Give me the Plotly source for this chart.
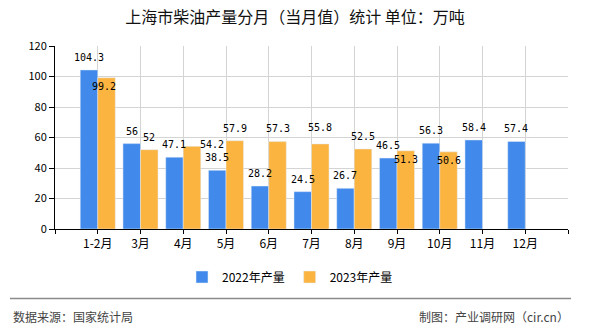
import plotly.graph_objects as go

# ---- data ----
months = ['1-2月', '3月', '4月', '5月', '6月', '7月', '8月', '9月', '10月', '11月', '12月']
prod_2022 = [104.3, 56, 47.1, 38.5, 28.2, 24.5, 26.7, 46.5, 56.3, 58.4, 57.4]
prod_2023 = [99.2, 52, 54.2, 57.9, 57.3, 55.8, 52.5, 51.3, 50.6, None, None]
series_names = ['2022年产量', '2023年产量']
y_ticks = [0, 20, 40, 60, 80, 100, 120]

# ---- label styling (pixel offsets of each value label from its bar top) ----
LABEL_DY = 12.5
label_dy_2023 = [-9, 12.5, 1.5, 12.5, 13.5, 16, 12.5, -9, -9, 12.5, 12.5]
label_dx_2023 = [-3, 0, 19.5, 0, 0, 0, 0, 0, 0, 0, 0]

W, H = 590, 330
ML, MR, MT, MB = 55, 22, 46, 101
PW, PH = W - ML - MR, H - MT - MB
BARGAP = 0.18


def px_x(px):
    return (px - ML) / PW


def px_y(py):
    return (H - MB - py) / PH


CJK = 'Noto Sans CJK SC'
MONO = 'DejaVu Sans Mono'
BLUE = '#418AEC'
ORANGE = '#FCB441'

xs = list(range(len(months)))
half = (1 - BARGAP) / 4  # offset of each bar centre from its category centre

fig = go.Figure()
fig.add_trace(go.Bar(x=xs, y=prod_2022, name=series_names[0], marker_color=BLUE))
fig.add_trace(go.Bar(x=xs, y=prod_2023, name=series_names[1], marker_color=ORANGE))

annotations = []
for i, v in enumerate(prod_2022):
    if v is None:
        continue
    annotations.append(dict(x=i - half, y=v, xref='x', yref='y', text=f'{v:g}',
                            showarrow=False, yanchor='middle', xanchor='center',
                            yshift=LABEL_DY,
                            font=dict(family=MONO, size=10, color='#000')))
for i, v in enumerate(prod_2023):
    if v is None:
        continue
    annotations.append(dict(x=i + half, y=v, xref='x', yref='y', text=f'{v:g}',
                            showarrow=False, yanchor='middle', xanchor='center',
                            yshift=label_dy_2023[i], xshift=label_dx_2023[i],
                            font=dict(family=MONO, size=10, color='#000')))

annotations += [
    dict(text='数据来源：国家统计局', xref='paper', yref='paper',
         x=px_x(11), y=px_y(316), xanchor='left', yanchor='middle',
         showarrow=False, font=dict(family=CJK, size=12, color='#444')),
    dict(text='制图：产业调研网（cir.cn）', xref='paper', yref='paper',
         x=px_x(571), y=px_y(316), xanchor='right', yanchor='middle',
         showarrow=False, font=dict(family=CJK, size=12, color='#444')),
]

fig.update_layout(
    width=W, height=H,
    margin=dict(l=ML, r=MR, t=MT, b=MB, pad=0),
    paper_bgcolor='white', plot_bgcolor='white',
    barmode='group', bargap=BARGAP, bargroupgap=0,
    font=dict(family=CJK, size=12, color='#000'),
    title=dict(text='上海市柴油产量分月（当月值）统计 单位：万吨',
               x=0.5, xref='container', xanchor='center',
               y=1 - 17 / H, yref='container', yanchor='middle',
               font=dict(family=CJK, size=16, color='#111')),
    showlegend=True,
    legend=dict(orientation='h', x=px_x(290), xanchor='center',
                y=px_y(277), yanchor='middle',
                font=dict(family=CJK, size=12, color='#000'),
                bgcolor='rgba(0,0,0,0)', itemclick=False),
    xaxis=dict(
        range=[-1, len(months)],
        tickmode='array',
        tickvals=[-1] + xs + [len(months)],
        ticktext=[''] + months + [''],
        showgrid=True, gridcolor='#d4d4d4', gridwidth=1,
        showline=True, linecolor='#000', linewidth=1,
        ticks='outside', ticklen=4, tickcolor='#000',
        tickfont=dict(family=CJK, size=12, color='#000'),
        zeroline=False, fixedrange=True,
    ),
    yaxis=dict(
        range=[0, 120], tickmode='array', tickvals=y_ticks,
        showgrid=True, gridcolor='#d4d4d4', gridwidth=1,
        showline=True, linecolor='#000', linewidth=1,
        ticks='outside', ticklen=5, tickcolor='#000',
        tickfont=dict(family=CJK, size=11, color='#000'),
        zeroline=False, fixedrange=True,
    ),
    shapes=[dict(type='line', xref='paper', yref='paper',
                 x0=px_x(10), x1=px_x(571), y0=px_y(298.5), y1=px_y(298.5),
                 line=dict(color='#8a8a8a', width=1.5))],
    annotations=annotations,
)

fig.write_html('out.html', config={'displayModeBar': False})
